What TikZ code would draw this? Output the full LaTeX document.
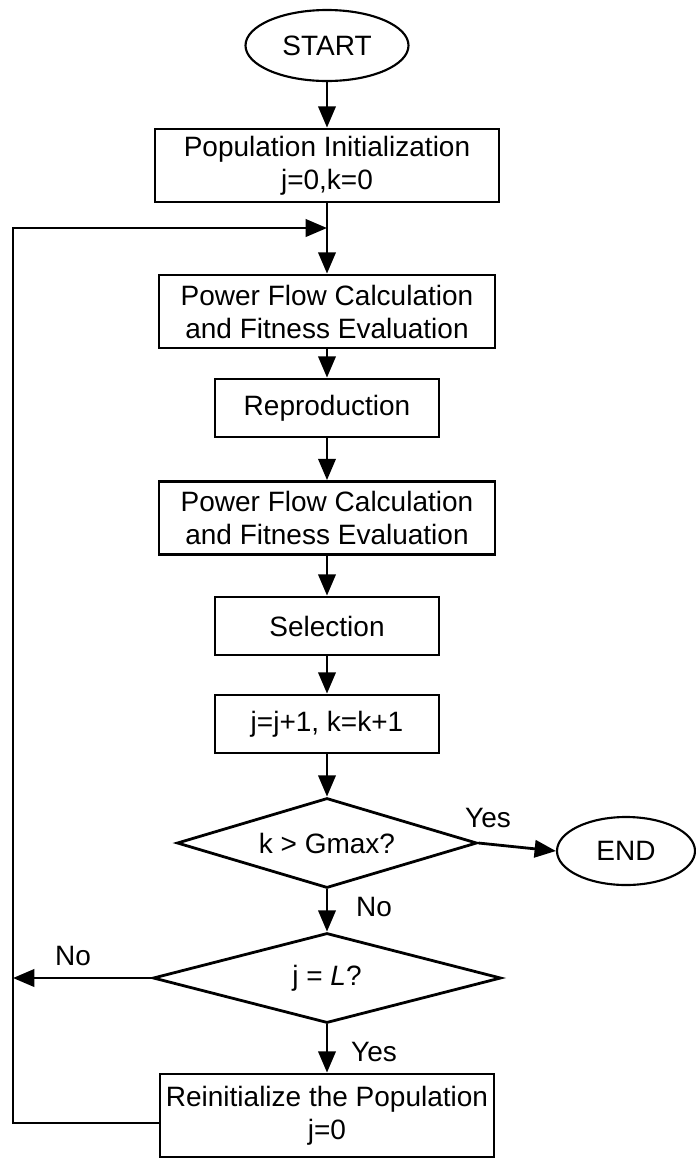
\documentclass[tikz,border=0pt]{standalone}
\usepackage{fontspec}
\setmainfont{Liberation Sans}
\usetikzlibrary{shapes.geometric,arrows.meta}
\begin{document}
\begin{tikzpicture}[x=0.75pt,y=-0.75pt,
  every node/.style={font=\fontsize{21pt}{24.75pt}\selectfont},
  stroke/.style={line width=2.1pt},
  terminal/.style={draw,ellipse,line width=1.6pt,inner sep=0pt},
  flowbox/.style={draw,rectangle,stroke,inner sep=0pt,align=center},
  widebox/.style={flowbox,minimum width=252pt,minimum height=54.75pt},
  narrowbox/.style={flowbox,minimum width=168pt,minimum height=43.5pt},
  decision/.style={draw,diamond,stroke,inner sep=0pt,aspect=3.3,minimum height=67.5pt},
  arr/.style={stroke,-{Triangle[length=16pt,width=13pt]}},
  lbl/.style={inner sep=0pt}
]
\useasboundingbox (0,0) rectangle (696,1158);

% process chain
\node[terminal,minimum width=122.25pt,minimum height=53.25pt] (start) at (327,45.5) {START};
\node[widebox,minimum width=258pt] (init) at (327,165.5) {Population Initialization\\j=0,k=0};
\node[widebox] (pf1) at (327,311.5) {Power Flow Calculation\\and Fitness Evaluation};
\node[narrowbox] (repro) at (327,408) {Reproduction};
\node[widebox] (pf2) at (327,518) {Power Flow Calculation\\and Fitness Evaluation};
\node[narrowbox] (sel) at (327,626) {Selection};
\node[narrowbox] (inc) at (327,724) {j=j+1, k=k+1};
\node[decision,minimum width=225pt] (dec1) at (327,843) {k > Gmax?};
\node[terminal,minimum width=103.5pt,minimum height=51pt] (endn) at (626,851) {END};
\node[decision,minimum width=261pt] (dec2) at (327,978) {j = \textit{L}?};
\node[flowbox,minimum width=250.5pt,minimum height=62.25pt] (reinit) at (327,1115.5) {Reinitialize the Population\\j=0};

% loop corners
\coordinate (loopbl) at (13,1123);
\coordinate (looptl) at (13,228);
\coordinate (merge) at (327,228);

% connectors
\draw[arr] (start) -- (init);
\draw[arr] (init) -- (pf1);
\draw[arr] (pf1) -- (repro);
\draw[arr] (repro) -- (pf2);
\draw[arr] (pf2) -- (sel);
\draw[arr] (sel) -- (inc);
\draw[arr] (inc) -- (dec1);
\draw[arr] (dec1.east) -- (endn.west);
\draw[arr] (dec1) -- (dec2);
\draw[arr] (dec2) -- (reinit);
\draw[arr] (dec2.west) -- (dec2.west -| looptl);
\draw[arr] (reinit.west |- loopbl) -- (loopbl) -- (looptl) -- (merge);

% branch labels
\node[lbl] (yes1) at (488,818) {Yes};
\node[lbl] (no1) at (374,907) {No};
\node[lbl] (no2) at (73,956) {No};
\node[lbl] (yes2) at (374,1052) {Yes};
\end{tikzpicture}
\end{document}
